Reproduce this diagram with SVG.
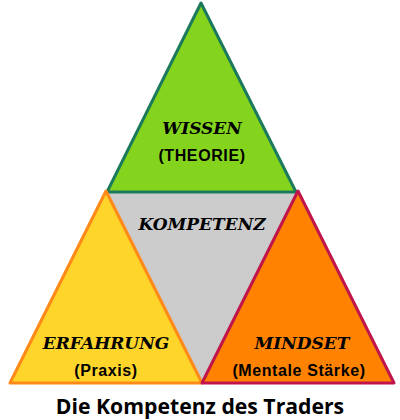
<svg xmlns="http://www.w3.org/2000/svg" width="400" height="420" viewBox="0 0 400 420">
<style>
.h{font-family:"DejaVu Serif","Liberation Serif",serif;font-weight:bold;font-style:italic;font-size:17px;fill:#000;text-anchor:middle}
.s{font-family:"Liberation Sans",Arial,sans-serif;font-weight:bold;font-size:16px;letter-spacing:0.6px;fill:#000;text-anchor:middle}
.t{font-family:"Open Sans","Liberation Sans",sans-serif;font-weight:bold;font-size:21.2px;fill:#000;text-anchor:middle}
</style>
<rect width="400" height="420" fill="#fff"/>
<g id="kompetenz">
<polygon points="107,192 297,192 202,383" fill="#cccccc"/>
<text class="h" x="202" y="230">KOMPETENZ</text>
</g>
<g id="wissen">
<polygon points="201,3 296,192 107,192" fill="#84d41e" stroke="#1b7a5c" stroke-width="3" stroke-linejoin="round"/>
<text class="h" x="202" y="134">WISSEN</text>
<text class="s" x="202" y="161">(THEORIE)</text>
</g>
<g id="erfahrung">
<polygon points="106,191 202,383 10,383" fill="#fed52b" stroke="#ff8a1a" stroke-width="3" stroke-linejoin="round"/>
<text class="h" x="106" y="349">ERFAHRUNG</text>
<text class="s" x="106" y="376">(Praxis)</text>
</g>
<g id="mindset">
<polygon points="298,191 394,383 202,383" fill="#ff8300" stroke="#c0144a" stroke-width="3" stroke-linejoin="round"/>
<text class="h" x="302" y="349">MINDSET</text>
<text class="s" x="299" y="376">(Mentale Stärke)</text>
</g>
<g id="connectors"></g>
<text class="t" x="200" y="414">Die Kompetenz des Traders</text>
</svg>
